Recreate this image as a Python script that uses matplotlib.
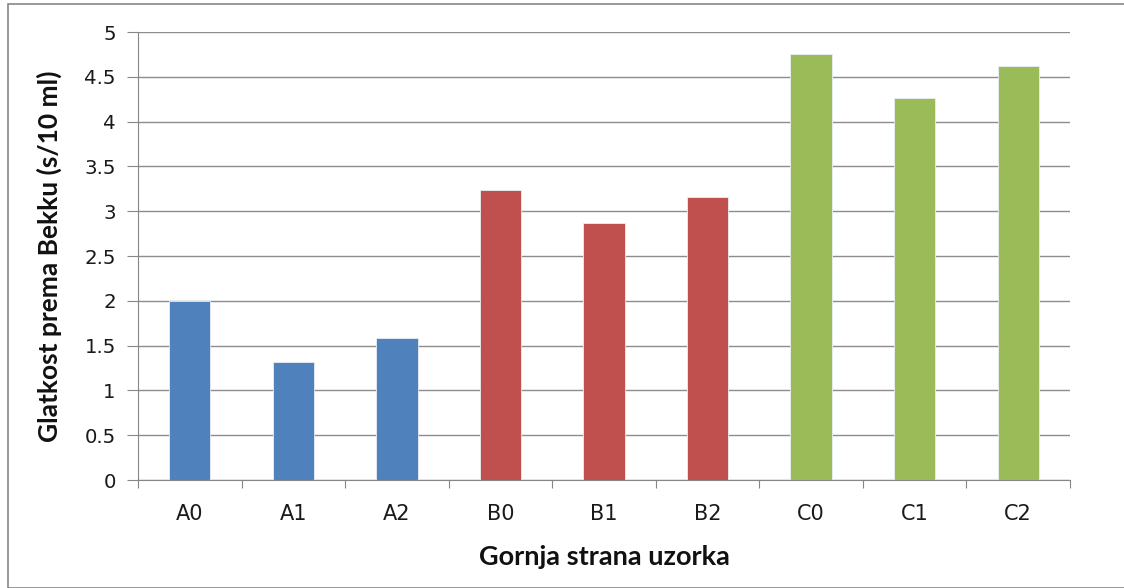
import matplotlib
matplotlib.use("Agg")
import matplotlib.pyplot as plt
from matplotlib.patches import Rectangle

categories = ["A0", "A1", "A2", "B0", "B1", "B2", "C0", "C1", "C2"]
values = [2.0, 1.32, 1.59, 3.24, 2.87, 3.155, 4.75, 4.26, 4.62]
bar_colors = ["#4F81BD"] * 3 + ["#C0504D"] * 3 + ["#9BBB59"] * 3
yticks = [0, 0.5, 1, 1.5, 2, 2.5, 3, 3.5, 4, 4.5, 5]
ytick_labels = ["0", "0.5", "1", "1.5", "2", "2.5", "3", "3.5", "4", "4.5", "5"]

plt.rcParams['font.family'] = ['DejaVu Sans']

fig = plt.figure(figsize=(11.24, 5.88), dpi=100)
ax = fig.add_axes([138/1124, 1-480/588, (1070-138)/1124, (480-32)/588])

# outer chart border
fig.patches.append(Rectangle((8/1124, 0), 1 - 8/1124 + 0.01, 1 - 4/588, transform=fig.transFigure,
                             fill=False, edgecolor="#868686", linewidth=1.2, zorder=0))

x = list(range(len(categories)))
ax.bar(x, values, width=0.4, color=bar_colors, edgecolor="#e8eef5", linewidth=0.6, zorder=3)

ax.set_xlim(-0.5, len(categories) - 0.5)
ax.set_ylim(0, 5)
ax.set_yticks(yticks)
ax.set_yticklabels(ytick_labels, fontsize=14.2, color="#1a1a1a")
ax.yaxis.grid(True, color="#8c8c8c", linewidth=1.0, zorder=0)
ax.set_axisbelow(True)

ax.set_xticks([i - 0.5 for i in range(len(categories) + 1)], minor=False)
ax.set_xticklabels([])
ax.set_xticks(x, minor=True)
ax.set_xticklabels(categories, minor=True, fontsize=15, color="#1a1a1a")
ax.tick_params(axis='x', which='minor', length=0, pad=17)
ax.tick_params(axis='x', which='major', length=6, color="#868686", direction='out')
ax.tick_params(axis='y', length=8, color="#868686", direction='out', pad=8)

for s in ["top", "right"]:
    ax.spines[s].set_visible(False)
for s in ["left", "bottom"]:
    ax.spines[s].set_color("#868686")

ax.set_xlabel("Gornja strana uzorka", fontsize=19.5, fontweight='bold', family='Lato', color="#111111")
ax.set_ylabel("Glatkost prema Bekku (s/10 ml)", fontsize=19, fontweight='bold', family='Lato', color="#111111")
ax.xaxis.set_label_coords(0.5, -0.145)
ax.yaxis.set_label_coords(-0.0815, 0.5)

fig.savefig("out.png", dpi=100)
